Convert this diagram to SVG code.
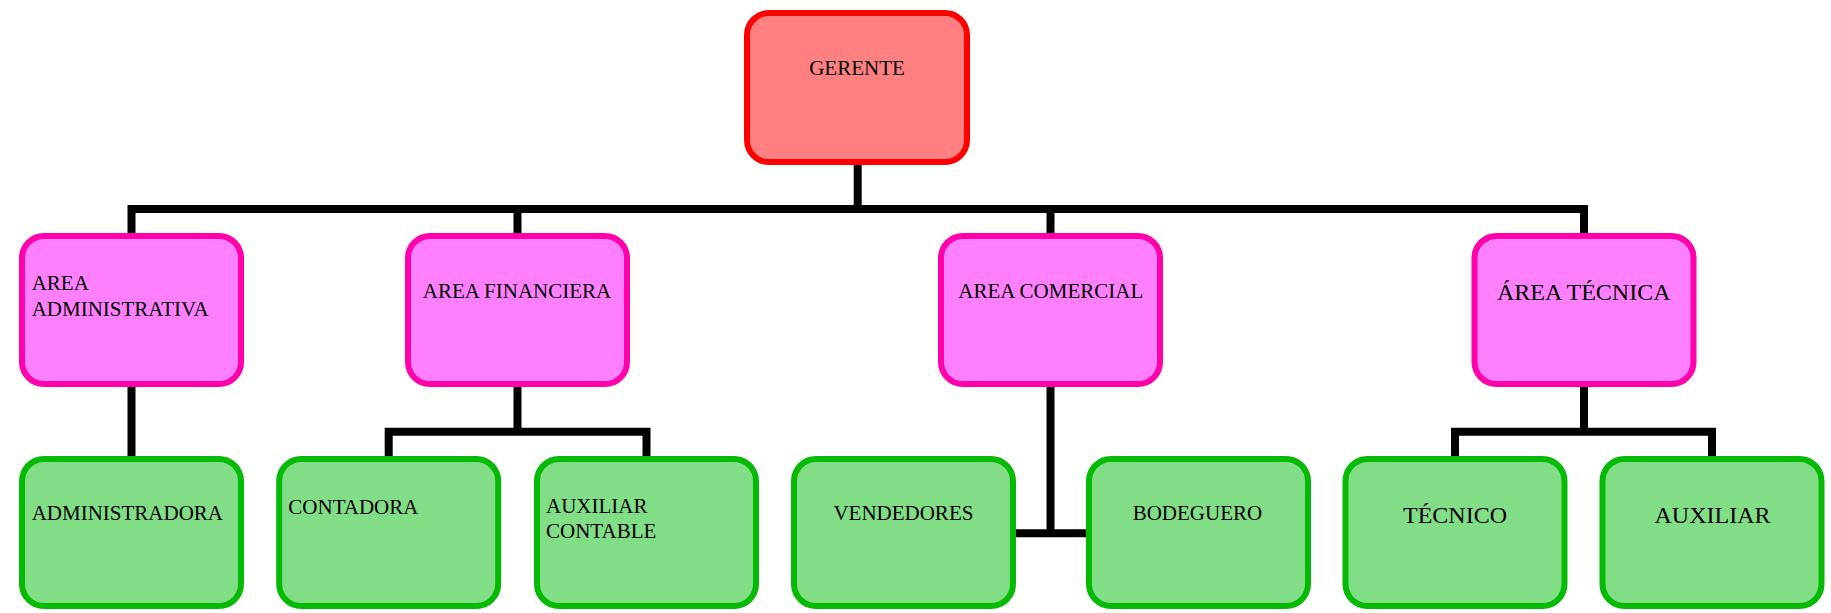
<svg xmlns="http://www.w3.org/2000/svg" width="1831" height="613" viewBox="0 0 1831 613">
<style>
.box{stroke-width:6}
.top{fill:#FF8080;stroke:#FF0000}
.area{fill:#FF80FF;stroke:#FF00AA}
.leaf{fill:#81DE87;stroke:#04BA04}
.conn{fill:none;stroke:#000;stroke-width:8;stroke-linejoin:miter;stroke-linecap:butt}
text{font-family:"Liberation Serif","Times New Roman",serif;font-size:21px;fill:#000}
.c{text-anchor:middle}
.big{font-size:24px}
</style>
<rect width="1831" height="613" fill="#fff"/>
<g id="connectors">
<path class="conn" d="M857.7 165 V209"/>
<path class="conn" d="M131.5 233 V209 H1584 V233"/>
<path class="conn" d="M517.5 209 V233"/>
<path class="conn" d="M1050.5 209 V233"/>
<path class="conn" d="M131.5 387 V456"/>
<path class="conn" d="M517.5 387 V431.7"/>
<path class="conn" d="M388.7 456 V431.7 H646.5 V456"/>
<path class="conn" d="M1050.5 387 V533.3"/>
<path class="conn" d="M1016 533.3 H1086"/>
<path class="conn" d="M1584 387 V431.7"/>
<path class="conn" d="M1455 456 V431.7 H1712 V456"/>
</g>
<g id="gerente">
<rect class="box top" x="747" y="13" width="220" height="149" rx="22"/>
<text class="c" x="857" y="75">GERENTE</text>
</g>
<g id="area-administrativa">
<rect class="box area" x="22" y="236" width="219" height="148" rx="22"/>
<text x="31.7" y="290">AREA</text>
<text x="31.7" y="315.7">ADMINISTRATIVA</text>
</g>
<g id="area-financiera">
<rect class="box area" x="408" y="236" width="219" height="148" rx="22"/>
<text class="c" x="517" y="298.3">AREA FINANCIERA</text>
</g>
<g id="area-comercial">
<rect class="box area" x="941" y="236" width="219" height="148" rx="22"/>
<text class="c" x="1050.8" y="298.3">AREA COMERCIAL</text>
</g>
<g id="area-tecnica">
<rect class="box area" x="1474.5" y="236" width="219" height="148" rx="22"/>
<text class="c big" x="1583.7" y="300">ÁREA TÉCNICA</text>
</g>
<g id="administradora">
<rect class="box leaf" x="22" y="459" width="219" height="147" rx="22"/>
<text x="31.7" y="520">ADMINISTRADORA</text>
</g>
<g id="contadora">
<rect class="box leaf" x="279.2" y="459" width="219" height="147" rx="22"/>
<text x="288.3" y="514">CONTADORA</text>
</g>
<g id="auxiliar-contable">
<rect class="box leaf" x="537" y="459" width="219" height="147" rx="22"/>
<text x="546" y="513.3">AUXILIAR</text>
<text x="546" y="537.7">CONTABLE</text>
</g>
<g id="vendedores">
<rect class="box leaf" x="794" y="459" width="219" height="147" rx="22"/>
<text class="c" x="903.4" y="520">VENDEDORES</text>
</g>
<g id="bodeguero">
<rect class="box leaf" x="1089" y="459" width="219" height="147" rx="22"/>
<text class="c" x="1197.4" y="520">BODEGUERO</text>
</g>
<g id="tecnico">
<rect class="box leaf" x="1345.5" y="459" width="219" height="147" rx="22"/>
<text class="c big" x="1455" y="522.7">TÉCNICO</text>
</g>
<g id="auxiliar">
<rect class="box leaf" x="1602.5" y="459" width="219" height="147" rx="22"/>
<text class="c big" x="1712.5" y="522.7">AUXILIAR</text>
</g>
</svg>
